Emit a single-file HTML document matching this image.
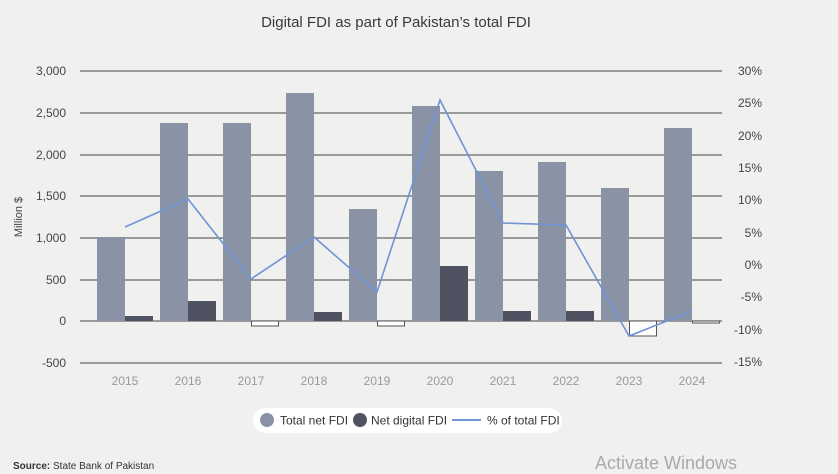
<!DOCTYPE html>
<html><head><style>
body{margin:0;background:#f0f0ef;}
svg{display:block;font-family:"Liberation Sans",sans-serif;}
</style></head><body>
<svg width="838" height="474" viewBox="0 0 838 474">
<rect width="838" height="474" fill="#f0f0ef"/>
<text x="396" y="27" font-size="15" fill="#3a3a3a" text-anchor="middle">Digital FDI as part of Pakistan’s total FDI</text>
<g stroke="#666" stroke-width="1.2">
<line x1="80" x2="722" y1="71" y2="71"/><line x1="80" x2="722" y1="113" y2="113"/>
<line x1="80" x2="722" y1="155" y2="155"/><line x1="80" x2="722" y1="196" y2="196"/>
<line x1="80" x2="722" y1="238" y2="238"/><line x1="80" x2="722" y1="280" y2="280"/>
<line x1="80" x2="722" y1="321" y2="321"/><line x1="80" x2="722" y1="363" y2="363"/>
</g>
<g font-size="12" fill="#444" text-anchor="end">
<text x="66" y="75">3,000</text><text x="66" y="117">2,500</text><text x="66" y="159">2,000</text>
<text x="66" y="200">1,500</text><text x="66" y="242">1,000</text><text x="66" y="284">500</text>
<text x="66" y="325">0</text><text x="66" y="367">-500</text>
</g>
<g font-size="12" fill="#444" text-anchor="end">
<text x="762" y="75">30%</text><text x="762" y="107">25%</text><text x="762" y="140">20%</text>
<text x="762" y="172">15%</text><text x="762" y="204">10%</text><text x="762" y="237">5%</text>
<text x="762" y="269">0%</text><text x="762" y="301">-5%</text><text x="762" y="334">-10%</text>
<text x="762" y="366">-15%</text>
</g>
<text transform="translate(22,217) rotate(-90)" font-size="11" fill="#444" text-anchor="middle">Million $</text>
<g fill="#8a93a6">
<rect x="97" y="237" width="28" height="84"/>
<rect x="160" y="123" width="28" height="198"/>
<rect x="223" y="123" width="28" height="198"/>
<rect x="286" y="93" width="28" height="228"/>
<rect x="349" y="209" width="28" height="112"/>
<rect x="412" y="106" width="28" height="215"/>
<rect x="475" y="171" width="28" height="150"/>
<rect x="538" y="162" width="28" height="159"/>
<rect x="601" y="188" width="28" height="133"/>
<rect x="664" y="128" width="28" height="193"/>
</g>
<g fill="#4f5260">
<rect x="125" y="316" width="28" height="5"/>
<rect x="188" y="301" width="28" height="20"/>
<rect x="314" y="312" width="28" height="9"/>
<rect x="440" y="266" width="28" height="55"/>
<rect x="503" y="311" width="28" height="10"/>
<rect x="566" y="311" width="28" height="10"/>
</g>
<g fill="#fff" stroke="#555" stroke-width="1">
<rect x="251.5" y="321" width="27" height="5"/>
<rect x="377.5" y="321" width="27" height="5"/>
<rect x="629.5" y="321" width="27" height="15"/>
<rect x="692.5" y="321" width="27" height="2"/>
</g>
<polyline fill="none" stroke="#6e93d6" stroke-width="1.6" points="125,227 188,199 251,279 314,237 377,292 440,100 503,223 566,225 629,336 692,311"/>
<g font-size="12" fill="#999" text-anchor="middle">
<text x="125" y="385">2015</text><text x="188" y="385">2016</text><text x="251" y="385">2017</text>
<text x="314" y="385">2018</text><text x="377" y="385">2019</text><text x="440" y="385">2020</text>
<text x="503" y="385">2021</text><text x="566" y="385">2022</text><text x="629" y="385">2023</text>
<text x="692" y="385">2024</text>
</g>
<rect x="253" y="408" width="309" height="25" rx="12.5" fill="#fff"/>
<circle cx="267" cy="420" r="7" fill="#8a93a6"/>
<text x="280" y="424.5" font-size="12" fill="#333">Total net FDI</text>
<circle cx="360" cy="420" r="7" fill="#4f5260"/>
<text x="371" y="424.5" font-size="12" fill="#333">Net digital FDI</text>
<line x1="452" x2="481" y1="420" y2="420" stroke="#6e93d6" stroke-width="2"/>
<text x="487" y="424.5" font-size="12" fill="#333">% of total FDI</text>
<text x="13" y="469" font-size="10" fill="#333"><tspan font-weight="bold">Source:</tspan> State Bank of Pakistan</text>
<text x="595" y="469" font-size="18" fill="#aaa">Activate Windows</text>
</svg>
</body></html>
